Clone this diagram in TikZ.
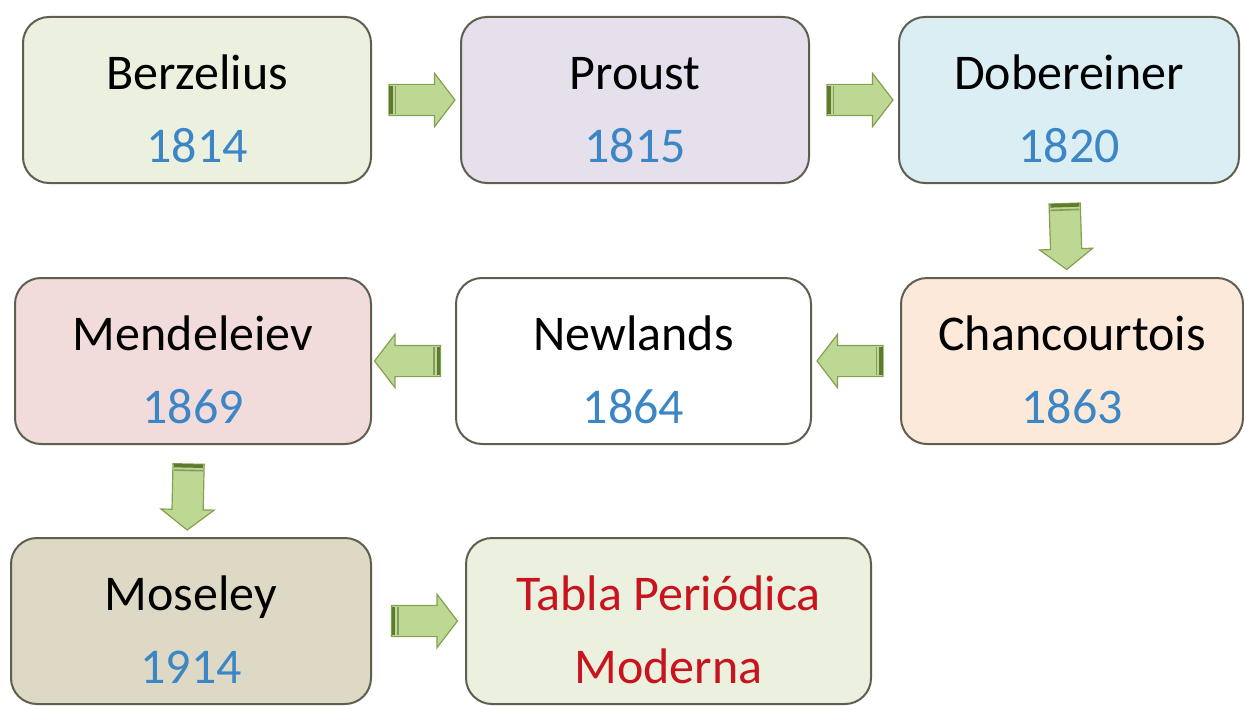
\documentclass[tikz,border=0pt]{standalone}
\usepackage{fontspec}
\setmainfont{Carlito}
\usetikzlibrary{positioning, shapes.arrows, calc}

\definecolor{boxline}{HTML}{5F5F50}
\definecolor{yearblue}{HTML}{3C86C6}
\definecolor{titlered}{HTML}{C8141E}
\definecolor{arrowfill}{HTML}{BCD893}
\definecolor{arrowline}{HTML}{86A052}
\definecolor{arrowdark}{HTML}{5E7A2E}

\tikzset{
  chembox/.style={draw=boxline, line width=2pt, rounded corners=26pt,
    minimum width=348pt, minimum height=166pt, align=center,
    font=\fontsize{50}{73}\selectfont},
  fatarrow/.style={single arrow, draw=arrowline, line width=1.2pt,
    fill=arrowfill, minimum height=66pt, inner xsep=0pt, inner ysep=15pt,
    single arrow head extend=11pt, single arrow tip angle=105,
    sloped, allow upside down}
}

\newcommand{\nm}[1]{\rule{0pt}{52pt}#1}
\newcommand{\yr}[1]{\textcolor{yearblue}{#1}}

\begin{document}
\begin{tikzpicture}[x=1pt, y=-1pt]
  \useasboundingbox[fill=white] (0,0) rectangle (1244,706);

  % first row
  \node[chembox, fill={rgb,255:red,235;green,241;blue,222}] (berz)
    at (197,100) {\nm{Berzelius}\\\yr{1814}};
  \node[chembox, fill={rgb,255:red,229;green,224;blue,236},
        right=88pt of berz] (proust) {\nm{Proust}\\\yr{1815}};
  \node[chembox, fill={rgb,255:red,219;green,238;blue,244},
        minimum width=340pt, right=88pt of proust] (dobe)
    {\nm{Dobereiner}\\\yr{1820}};

  % second row, right to left
  \node[chembox, fill={rgb,255:red,253;green,233;blue,217},
        minimum width=342pt, below=93pt of dobe, xshift=3pt] (chanc)
    {\nm{Chancourtois}\\\yr{1863}};
  \node[chembox, fill=white, minimum width=355pt,
        left=88pt of chanc] (newl) {\nm{Newlands}\\\yr{1864}};
  \node[chembox, fill={rgb,255:red,242;green,220;blue,219},
        minimum width=356pt, left=83pt of newl] (mend)
    {\nm{Mendeleiev}\\\yr{1869}};

  % last row
  \node[chembox, fill={rgb,255:red,221;green,217;blue,196},
        minimum width=360pt, below=92pt of mend.south east, anchor=north east]
    (mose) {\nm{Moseley}\\\yr{1914}};
  \node[chembox, fill={rgb,255:red,235;green,241;blue,222},
        minimum width=405pt, right=93pt of mose] (tabla)
    {\nm{\textcolor{titlered}{Tabla Periódica}}\\\textcolor{titlered}{Moderna}};

  \path (berz) -- node[fatarrow] (a1) {} (proust);
  \path (proust) -- node[fatarrow] (a2) {} (dobe);
  \path ([xshift=-5pt]dobe.south) -- node[fatarrow] (a3) {} ([xshift=-5pt]chanc.north);
  \path (chanc) -- node[fatarrow] (a4) {} (newl);
  \path (newl) -- node[fatarrow] (a5) {} (mend);
  \path ([xshift=-4pt]mend.south) -- node[fatarrow] (a6) {} ([xshift=-4pt]mose.north);
  \path (mose) -- node[fatarrow] (a7) {} (tabla);

  % dark stripes at the tails
  \foreach \a in {a1,a2,a3,a4,a5,a6,a7} {
    \draw[arrowdark, line width=3.5pt]
      ($(\a.tail)!2.5pt!(\a.tip)!14.4pt!90:(\a.tip)$) --
      ($(\a.tail)!2.5pt!(\a.tip)!14.4pt!-90:(\a.tip)$);
    \draw[arrowdark!75, line width=1.6pt]
      ($(\a.tail)!7pt!(\a.tip)!14.4pt!90:(\a.tip)$) --
      ($(\a.tail)!7pt!(\a.tip)!14.4pt!-90:(\a.tip)$);
  }
\end{tikzpicture}
\end{document}
